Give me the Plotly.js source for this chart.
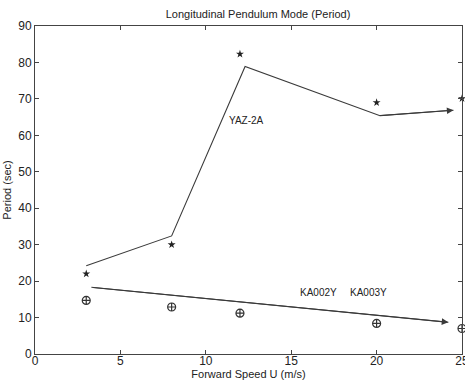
<!DOCTYPE html>
<html>
<head>
<meta charset="utf-8">
<script src="https://cdn.plot.ly/plotly-3.0.1.min.js"></script>
<style>html,body{margin:0;padding:0;background:#fff;}#chart{width:465px;height:382px;}</style>
</head>
<body>
<div id="chart"></div>
<script>
// Measured points
const speedPts = [3, 8, 12, 20, 25];
const yazMeasured = [22.0, 30.0, 82.3, 69.0, 70.1];
const kaMeasured = [14.7, 12.9, 11.2, 8.4, 7.0];
// Predicted (line) curves
const yazLineX = [3, 8, 12.3, 20.2, 24.5];
const yazLineY = [24.2, 32.4, 78.9, 65.4, 66.9];
const kaLineX = [3.3, 24.2];
const kaLineY = [18.3, 8.7];
// Labels
const labelText = ["YAZ-2A", "KA002Y", "KA003Y"];
const labelX = [12.4, 16.6, 19.5];
const labelY = [64, 16.8, 16.8];

const ink = '#3a3a3a';
const traces = [
  {x: yazLineX, y: yazLineY, mode: 'lines', line: {color: ink, width: 1.1}, hoverinfo: 'skip'},
  {x: kaLineX, y: kaLineY, mode: 'lines', line: {color: ink, width: 1.1}, hoverinfo: 'skip'},
  {x: speedPts, y: yazMeasured, mode: 'markers', marker: {symbol: 'star', size: 6, color: '#222'}, cliponaxis: false},
  {x: speedPts, y: kaMeasured, mode: 'markers', marker: {symbol: 'circle-cross-open', size: 8, color: '#333', line: {width: 1.2}}, cliponaxis: false}
];

const annotations = labelText.map((t, i) => ({
  x: labelX[i], y: labelY[i], text: t, showarrow: false,
  font: {family: 'Liberation Sans, Arial, sans-serif', size: 10, color: '#222'}
}));
function arrowOn(xs, ys) {
  const n = xs.length;
  return {x: xs[n-1], y: ys[n-1], ax: xs[n-2], ay: ys[n-2], axref: 'x', ayref: 'y', xref: 'x', yref: 'y',
    showarrow: true, arrowhead: 2, arrowsize: 1.2, arrowwidth: 1.1, arrowcolor: ink, text: ''};
}
annotations.push(arrowOn(yazLineX, yazLineY));
annotations.push(arrowOn(kaLineX, kaLineY));

const axisCommon = {
  showgrid: false, zeroline: false, showline: true, mirror: 'ticks', linecolor: '#444', linewidth: 1,
  ticks: 'inside', ticklen: 4, tickcolor: '#444', ticklabeloverflow: 'allow',
  tickfont: {family: 'Liberation Sans, Arial, sans-serif', size: 12, color: '#222'}
};

const layout = {
  width: 465, height: 382,
  margin: {l: 35, r: 3, t: 26, b: 28},
  paper_bgcolor: '#fff', plot_bgcolor: '#fff',
  showlegend: false,
  title: {text: 'Longitudinal Pendulum Mode (Period)', x: 0.555, xanchor: 'center', y: 0.963, yanchor: 'middle',
    font: {family: 'Liberation Sans, Arial, sans-serif', size: 11, color: '#222'}},
  xaxis: Object.assign({}, axisCommon, {range: [0, 25], tickvals: [0, 5, 10, 15, 20, 25], ticklabelstandoff: -4,
    title: {text: 'Forward Speed U (m/s)', standoff: 2, font: {family: 'Liberation Sans, Arial, sans-serif', size: 11, color: '#222'}}}),
  yaxis: Object.assign({}, axisCommon, {range: [0, 90], tickvals: [0, 10, 20, 30, 40, 50, 60, 70, 80, 90],
    title: {text: 'Period (sec)', standoff: 4, font: {family: 'Liberation Sans, Arial, sans-serif', size: 11, color: '#222'}}}),
  annotations: annotations
};

Plotly.newPlot('chart', traces, layout, {displayModeBar: false, staticPlot: true});
</script>
</body>
</html>
